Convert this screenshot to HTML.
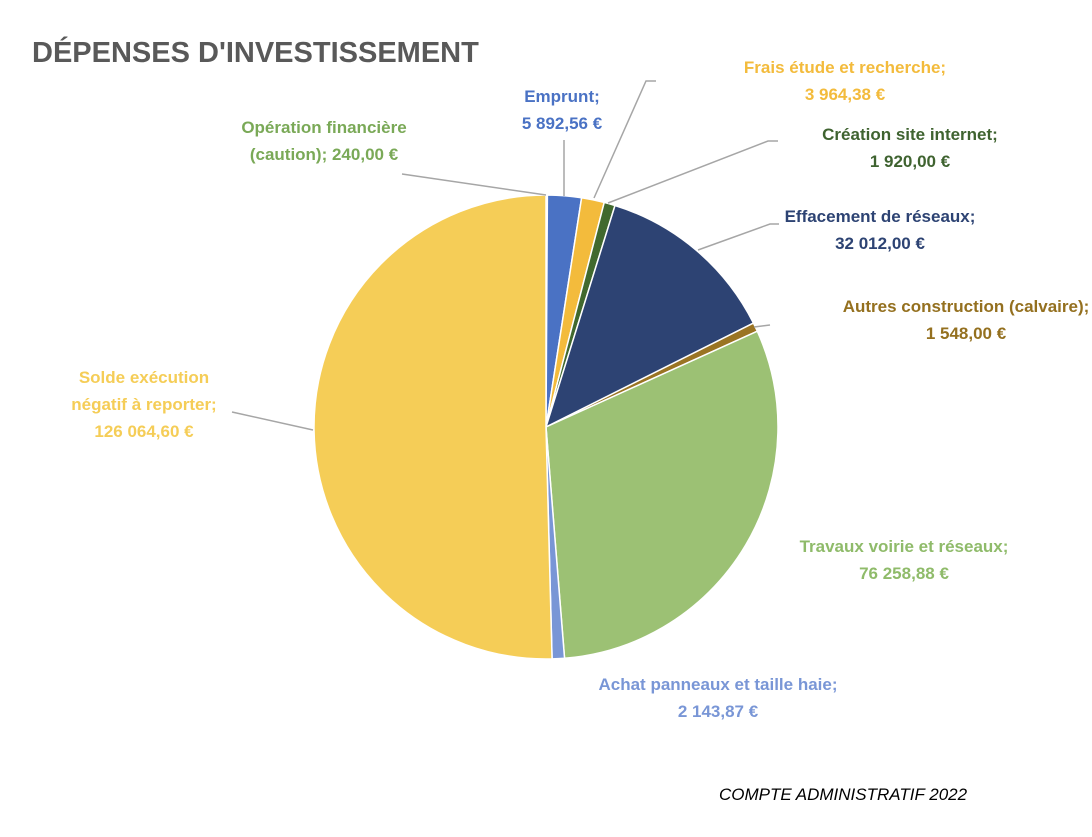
<!DOCTYPE html>
<html><head><meta charset="utf-8"><style>
body{margin:0;background:#fff;width:1092px;height:832px;overflow:hidden;font-family:"Liberation Sans",sans-serif}
svg text{font-family:"Liberation Sans",sans-serif;font-weight:bold;font-size:17px}
</style></head><body>
<svg id="chart" width="1092" height="832" viewBox="0 0 1092 832">
<text x="32" y="62" style="font-size:29px;fill:#595959">DÉPENSES D'INVESTISSEMENT</text>
<g id="slices"></g>
<g id="leaders" stroke="#a6a6a6" stroke-width="1.5" fill="none">
<polyline points="402,174 546,195"/>
<polyline points="564,140 564,196"/>
<polyline points="656,81 646,81 594,198"/>
<polyline points="778,141 768,141 608,203"/>
<polyline points="779,224 770,224 698,250"/>
<polyline points="770,325 754,327"/>
<polyline points="232,412 313,430"/>
</g>
<g id="labels" text-anchor="middle"></g>
<text x="843" y="800" text-anchor="middle" style="font-size:17px;font-weight:normal;font-style:italic;fill:#000">COMPTE ADMINISTRATIF 2022</text>
</svg>
<script>
const categories=["Opération financière (caution)","Emprunt","Frais étude et recherche","Création site internet","Effacement de réseaux","Autres construction (calvaire)","Travaux voirie et réseaux","Achat panneaux et taille haie","Solde exécution négatif à reporter"];
const values=[240.00,5892.56,3964.38,1920.00,32012.00,1548.00,76258.88,2143.87,126064.60];
const valueLabels=["240,00  €","5 892,56  €","3 964,38  €","1 920,00  €","32 012,00  €","1 548,00  €","76 258,88  €","2 143,87  €","126 064,60  €"];
const colors=["#9bbb59","#4a72c4","#f3bb3c","#41692e","#2d4373","#9a7423","#9cc174","#7996d6","#f5cd57"];
const labelColors=["#7aa957","#4a72c4","#f3bb3c","#3f6330","#2d4373","#94701f","#8fbb6a","#7996d6","#f5cd57"];
const labelLines=[["Opération financière","(caution);  240,00  €"],["Emprunt;","5 892,56  €"],["Frais étude et recherche;","3 964,38  €"],["Création site internet;","1 920,00  €"],["Effacement de réseaux;","32 012,00  €"],["Autres construction (calvaire);","1 548,00  €"],["Travaux voirie et réseaux;","76 258,88  €"],["Achat panneaux et taille haie;","2 143,87  €"],["Solde exécution","négatif à reporter;","126 064,60  €"]];
const labelAnchors=[[324,133],[562,102],[845,73],[910,140],[880,222],[966,312],[904,552],[718,690],[144,383]];
const cx=546,cy=427,r=232;
const NS="http://www.w3.org/2000/svg";
const total=values.reduce((a,b)=>a+b,0);
const sg=document.getElementById('slices');
let a0=0;
values.forEach((v,i)=>{
 const a1=a0+v/total*Math.PI*2;
 const p=(a)=>[cx+r*Math.sin(a),cy-r*Math.cos(a)];
 const [x0,y0]=p(a0),[x1,y1]=p(a1);
 const path=document.createElementNS(NS,'path');
 path.setAttribute('d',`M${cx},${cy}L${x0},${y0}A${r},${r} 0 ${a1-a0>Math.PI?1:0} 1 ${x1},${y1}Z`);
 path.setAttribute('fill',colors[i]);
 path.setAttribute('stroke','#fff');path.setAttribute('stroke-width','1.5');
 
 
 sg.appendChild(path);
 a0=a1;
});
const lg=document.getElementById('labels');
labelLines.forEach((lines,i)=>{
 const t=document.createElementNS(NS,'text');
 
 
 t.setAttribute('fill',labelColors[i]);
 lines.forEach((s,j)=>{
  const ts=document.createElementNS(NS,'tspan');
  ts.setAttribute('x',labelAnchors[i][0]);
  ts.setAttribute('y',labelAnchors[i][1]+j*27);
  ts.textContent=s;t.appendChild(ts);
 });
 lg.appendChild(t);
});
</script>
</body></html>
